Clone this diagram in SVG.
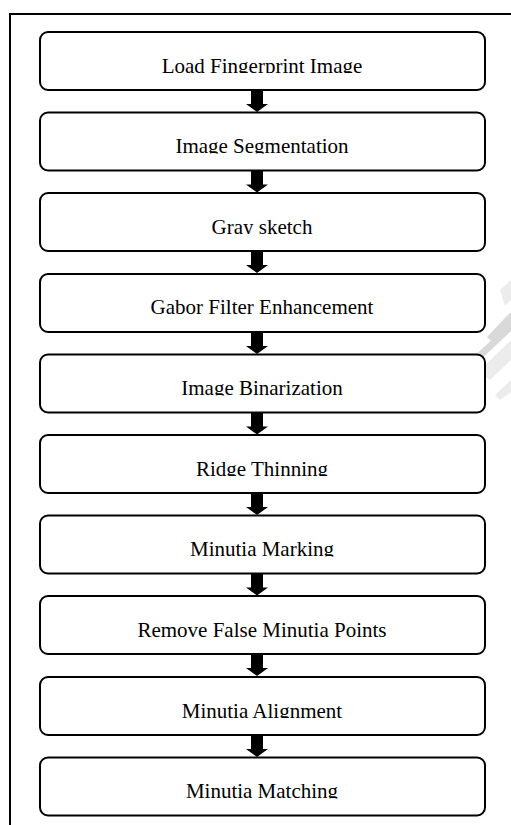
<svg xmlns="http://www.w3.org/2000/svg" xmlns:xlink="http://www.w3.org/1999/xlink" width="511" height="825" viewBox="0 0 511 825">
<style>
.box{fill:#fff;stroke:#000;stroke-width:2}
.lbl{font-family:"Liberation Serif","Times New Roman",serif;font-size:21px;fill:#000;text-anchor:middle}
.frame{fill:none;stroke:#000;stroke-width:2}
.wm{fill:#d9d9d9}
.wm2{fill:#ececec}
</style>
<defs>
<g id="arr">
<rect x="251" y="0" width="12" height="15" fill="#000"/>
<polygon points="246,14 268,14 257,22" fill="#000"/>
</g>
<clipPath id="tc" clipPathUnits="userSpaceOnUse">
<rect x="40" y="37" width="445" height="36"/>
<rect x="40" y="117.5" width="445" height="36"/>
<rect x="40" y="198" width="445" height="36"/>
<rect x="40" y="279" width="445" height="36"/>
<rect x="40" y="359.5" width="445" height="36"/>
<rect x="40" y="440" width="445" height="36"/>
<rect x="40" y="520.5" width="445" height="36"/>
<rect x="40" y="601" width="445" height="36"/>
<rect x="40" y="682" width="445" height="36"/>
<rect x="40" y="762.5" width="445" height="36"/>
</clipPath>
</defs>
<rect width="511" height="825" fill="#fff"/>
<g id="watermark">
<polygon class="wm2" points="500,290 511,280 511,300 505,306"/>
<polygon class="wm" points="487,337 505,318 511,312 511,330 496,345"/>
<polygon class="wm" points="461,361 470,360 511,322 511,331 476,364 466,366"/>
<polygon class="wm2" points="478,372 511,340 511,360 490,380"/>
<polygon class="wm2" points="495,395 511,380 511,392 500,400"/>
</g>
<path class="frame" d="M10,825 V14 H511"/>
<g id="connectors">
<use xlink:href="#arr" transform="translate(0,90)"/>
<use xlink:href="#arr" transform="translate(0,170.5)"/>
<use xlink:href="#arr" transform="translate(0,251)"/>
<use xlink:href="#arr" transform="translate(0,332)"/>
<use xlink:href="#arr" transform="translate(0,412.5)"/>
<use xlink:href="#arr" transform="translate(0,493)"/>
<use xlink:href="#arr" transform="translate(0,573.5)"/>
<use xlink:href="#arr" transform="translate(0,654)"/>
<use xlink:href="#arr" transform="translate(0,735)"/>
</g>
<g id="n1"><rect class="box" x="40" y="32" width="445" height="58" rx="8"/><text class="lbl" x="262" y="72.5" clip-path="url(#tc)">Load Fingerprint Image</text></g>
<g id="n2"><rect class="box" x="40" y="112.5" width="445" height="58" rx="8"/><text class="lbl" x="262" y="153" clip-path="url(#tc)">Image Segmentation</text></g>
<g id="n3"><rect class="box" x="40" y="193" width="445" height="58" rx="8"/><text class="lbl" x="262" y="233.5" clip-path="url(#tc)">Gray sketch</text></g>
<g id="n4"><rect class="box" x="40" y="274" width="445" height="58" rx="8"/><text class="lbl" x="262" y="314" clip-path="url(#tc)">Gabor Filter Enhancement</text></g>
<g id="n5"><rect class="box" x="40" y="354.5" width="445" height="58" rx="8"/><text class="lbl" x="262" y="395" clip-path="url(#tc)">Image Binarization</text></g>
<g id="n6"><rect class="box" x="40" y="435" width="445" height="58" rx="8"/><text class="lbl" x="262" y="475.5" clip-path="url(#tc)">Ridge Thinning</text></g>
<g id="n7"><rect class="box" x="40" y="515.5" width="445" height="58" rx="8"/><text class="lbl" x="262" y="556" clip-path="url(#tc)">Minutia Marking</text></g>
<g id="n8"><rect class="box" x="40" y="596" width="445" height="58" rx="8"/><text class="lbl" x="262" y="636.5" clip-path="url(#tc)">Remove False Minutia Points</text></g>
<g id="n9"><rect class="box" x="40" y="677" width="445" height="58" rx="8"/><text class="lbl" x="262" y="717.5" clip-path="url(#tc)">Minutia Alignment</text></g>
<g id="n10"><rect class="box" x="40" y="757.5" width="445" height="58" rx="8"/><text class="lbl" x="262" y="798" clip-path="url(#tc)">Minutia Matching</text></g>
</svg>
